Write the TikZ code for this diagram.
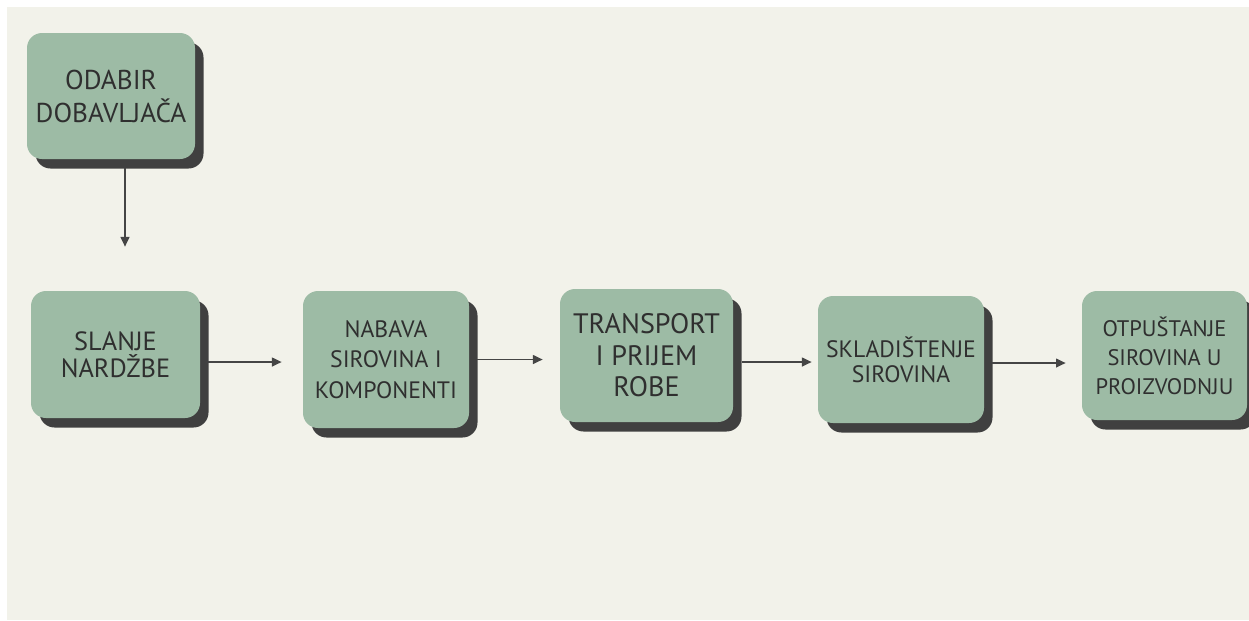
\documentclass[tikz,border=0pt]{standalone}
\usepackage{fontspec}
\setmainfont{PT Sans}
\usetikzlibrary{shadows,arrows.meta}

\definecolor{bgbeige}{HTML}{F2F2EA}
\definecolor{boxgreen}{HTML}{9DBBA5}
\definecolor{shadowgrey}{HTML}{404040}
\definecolor{textgrey}{HTML}{2F2F2F}
\definecolor{arrowgrey}{HTML}{454545}

\begin{document}
\begin{tikzpicture}[node distance = {52mm},
	step box/.style = {fill=boxgreen, rounded corners=3mm, align=center, text=textgrey, inner sep=0pt,
		drop shadow={shadow xshift=0.17cm, shadow yshift=-0.19cm, fill=shadowgrey, opacity=1}},
	flow/.style = {draw=arrowgrey, line width=0.9pt, -{Triangle[length=5.5pt, width=5pt]}}]
	\useasboundingbox (0,0) rectangle (24.98,-12.40);
	\fill[white] (0,0) rectangle (24.98,-12.40);
	\fill[bgbeige] (0.14,-0.14) rectangle (24.98,-12.40);
	\node[step box, minimum width=3.36cm, minimum height=2.52cm, font=\fontsize{15.5}{18.8}\selectfont] (1) at (2.22,-1.92) {ODABIR\\DOBAVLJAČA};
	\node[step box, minimum width=3.38cm, minimum height=2.54cm, font=\fontsize{15}{15.4}\selectfont, node distance=51.7mm] (2) [below of=1, xshift=0.9mm] {SLANJE\\NARDŽBE};
	\node[step box, minimum width=3.32cm, minimum height=2.74cm, font=\fontsize{13.5}{17.5}\selectfont, node distance=54.1mm] (3) [right of=2, yshift=-1mm] {NABAVA\\SIROVINA I\\KOMPONENTI};
	\node[step box, minimum width=3.46cm, minimum height=2.66cm, font=\fontsize{16}{18}\selectfont, node distance=52.1mm] (4) [right of=3, yshift=0.8mm] {TRANSPORT\\I PRIJEM\\ROBE};
	\node[step box, minimum width=3.32cm, minimum height=2.54cm, font=\fontsize{13.5}{14.2}\selectfont, node distance=50.9mm] (5) [right of=4, yshift=-0.8mm] {SKLADIŠTENJE\\SIROVINA};
	\node[step box, minimum width=3.30cm, minimum height=2.58cm, font=\fontsize{12.8}{16.5}\selectfont, node distance=52.7mm] (6) [right of=5, yshift=0.8mm] {OTPUŠTANJE\\SIROVINA U\\PROIZVODNJU};
	\draw[flow, shorten <=0.18cm, shorten >=0.88cm] ([xshift=0.28cm]1.south) -- ([xshift=0.28cm]1.south |- 2.north);
	\draw[flow, shorten <=0.16cm, shorten >=0.42cm] ([yshift=-0.15cm]2.east) -- ([yshift=-0.15cm]2.east -| 3.west);
	\draw[flow, shorten <=0.16cm, shorten >=0.34cm] (3.east) -- (3.east -| 4.west);
	\draw[flow, shorten <=0.18cm, shorten >=0.12cm] ([yshift=-0.13cm]4.east) -- ([yshift=-0.13cm]4.east -| 5.west);
	\draw[flow, shorten <=0.16cm, shorten >=0.32cm] ([yshift=-0.07cm]5.east) -- ([yshift=-0.07cm]5.east -| 6.west);
\end{tikzpicture}
\end{document}
